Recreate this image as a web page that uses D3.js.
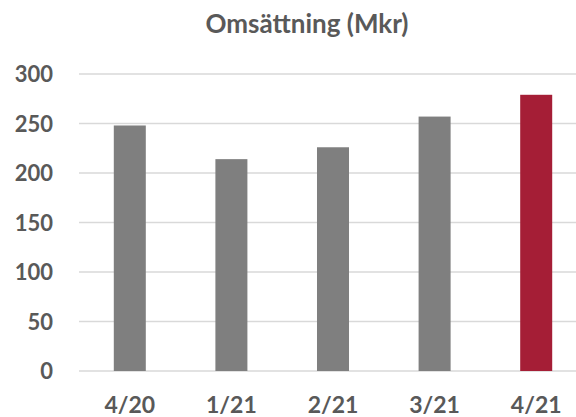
<!DOCTYPE html>
<html>
<head>
<meta charset="utf-8">
<script src="https://cdn.jsdelivr.net/npm/d3@7"></script>
<style>
  html, body { margin: 0; padding: 0; background: #fff; overflow: hidden; }
  svg { display: block; }
</style>
</head>
<body>
<svg id="chart" width="576" height="417"></svg>
<script>
const title = "Omsättning (Mkr)";
const categories = ["4/20", "1/21", "2/21", "3/21", "4/21"];
const values = [248, 214, 226, 257, 279];
const yTicks = [0, 50, 100, 150, 200, 250, 300];
const highlight = "4/21";

const W = 576, H = 417;
const svg = d3.select("#chart");
const font = "Lato, 'Open Sans', sans-serif";
const textColor = "#595959";

const x = d3.scaleBand().domain(categories).range([79, 587]).paddingInner(0.685).paddingOuter(0.3425);
const y = d3.scaleLinear().domain([0, 300]).range([371, 74]);

// gridlines
svg.append("g").selectAll("line").data(yTicks).join("line")
  .attr("x1", 79).attr("x2", 587)
  .attr("y1", d => y(d)).attr("y2", d => y(d))
  .attr("stroke", "#d9d9d9").attr("stroke-width", 1.5);

// y axis labels
const yAxis = d3.axisLeft(y).tickValues(yTicks).tickSize(0).tickPadding(0);
const gy = svg.append("g").attr("transform", "translate(53,0)").call(yAxis);
gy.select(".domain").remove();
gy.selectAll("text").attr("fill", textColor).attr("font-family", font)
  .attr("font-weight", "bold").attr("font-size", 22).attr("dy", "0.36em");

// x axis labels
const xAxis = d3.axisBottom(x).tickSize(0).tickPadding(0);
const gx = svg.append("g").attr("transform", "translate(0,397)").call(xAxis);
gx.select(".domain").remove();
gx.selectAll("text").attr("fill", textColor).attr("font-family", font)
  .attr("font-weight", "bold").attr("font-size", 23).attr("dy", "0.71em");

// bars
svg.append("g").selectAll("rect").data(categories).join("rect")
  .attr("x", d => x(d)).attr("width", x.bandwidth())
  .attr("y", (d, i) => y(values[i])).attr("height", (d, i) => y(0) - y(values[i]))
  .attr("fill", d => d === highlight ? "#a51e36" : "#7f7f7f");

// title
svg.append("text").attr("x", 307).attr("y", 33)
  .attr("text-anchor", "middle").attr("fill", textColor)
  .attr("font-family", font).attr("font-weight", "bold").attr("font-size", 26)
  .text(title);
</script>
</body>
</html>
